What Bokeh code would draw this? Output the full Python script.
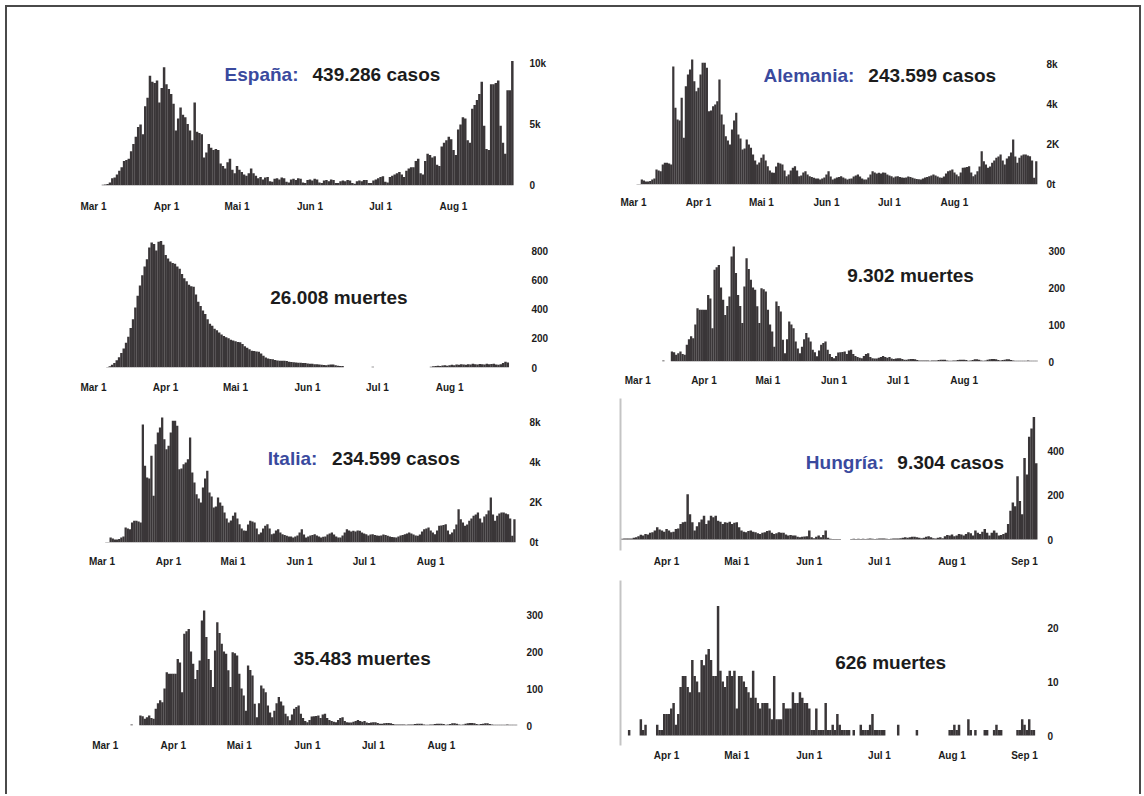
from bokeh.plotting import figure
from bokeh.layouts import row, column
from bokeh.models import Range1d, FixedTicker, LinearAxis, Label, ColumnDataSource
from bokeh.embed import file_html
from bokeh.resources import INLINE

# ---------------- data (daily values, day 0 = 1 March) ----------------
month_ticks = [0, 31, 61, 92, 122, 153, 184]
month_labels = ["Mar 1", "Apr 1", "Mai 1", "Jun 1", "Jul 1", "Aug 1", "Sep 1"]

es_cases = [
    0, 0, 0, 0, 60, 80, 120, 250, 600, 650,
    900, 1200, 1500, 2000, 2100, 2200, 2800, 3400, 4000, 4800,
    5000, 4200, 6500, 7200, 9000, 8500, 8400, 8600, 6800, 8000,
    9700, 8300, 7900, 7500, 6700, 4500, 5500, 6400, 5800, 5600,
    5050, 4500, 3700, 6800, 4400, 4300, 4200, 2300, 2700, 3400,
    3100, 2900, 3000, 2900, 1800, 1600, 1400, 1900, 2200, 1300,
    1000, 1600, 1300, 1100, 900, 800, 1000, 1400, 1000, 800,
    600, 700, 500, 650, 700, 350, 300, 550, 600, 500,
    650, 600, 300, 250, 500, 550, 450, 600, 550, 250,
    200, 450, 500, 400, 550, 500, 250, 200, 400, 450,
    350, 500, 450, 200, 200, 350, 400, 350, 450, 400,
    200, 150, 350, 400, 350, 450, 450, 200, 200, 400,
    500, 600, 700, 750, 300, 250, 700, 800, 900, 1000,
    1100, 900, 700, 1200, 1400, 1500, 1500, 2000, 2200, 1000,
    900, 2000, 2600, 2500, 2300, 2400, 1700, 1600, 3200, 3500,
    3700, 4000, 3800, 2900, 2500, 4600, 5000, 5600, 5500, 3700,
    3500, 6300, 6600, 7000, 7500, 8500, 4900, 3000, 2900, 8300,
    8300, 8400, 8600, 4900, 3500, 2600, 7800, 7800, 10200,
]

es_deaths = [
    0, 0, 0, 0, 0, 0, 3, 8, 18, 30,
    50, 70, 100, 130, 170, 210, 270, 330, 410, 490,
    560, 630, 690, 740, 820, 855, 845, 800, 860, 865,
    840, 770, 745, 725, 715, 710, 690, 675, 640, 610,
    590, 565, 555, 552, 500, 450, 420, 390, 365, 330,
    300, 285, 265, 255, 240, 225, 215, 207, 200, 190,
    184, 180, 175, 172, 160, 145, 135, 125, 115, 112,
    110, 108, 95, 80, 69, 62, 58, 57, 52, 48,
    46, 46, 46, 44, 40, 38, 36, 35, 33, 32,
    31, 30, 28, 26, 25, 23, 22, 20, 18, 17,
    16, 18, 20, 20, 15, 12, 10, 10, 0, 0,
    0, 0, 0, 0, 0, 0, 0, 0, 0, 0,
    5, 0, 0, 0, 0, 0, 0, 0, 0, 0,
    0, 0, 0, 0, 0, 0, 0, 0, 0, 0,
    0, 0, 0, 0, 0, 5, 8, 10, 12, 10,
    14, 15, 12, 15, 18, 16, 20, 18, 22, 20,
    18, 22, 20, 25, 22, 20, 24, 22, 20, 25,
    22, 24, 25, 20, 18, 22, 30, 40, 35,
]

it_cases = [
    0, 0, 20, 30, 250, 200, 150, 150, 170, 250,
    300, 750, 700, 667, 1000, 1083, 1083, 1050, 1000, 5900,
    3833, 3250, 3200, 4333, 2333, 4917, 5500, 5750, 6250, 5167,
    4667, 4833, 5500, 6083, 6083, 5833, 3667, 3700, 3917, 4000,
    4167, 5250, 3500, 3000, 2417, 2200, 2000, 2750, 3200, 3583,
    2500, 2300, 1750, 1800, 2250, 2000, 1833, 1500, 1200, 1000,
    1100, 1333, 1500, 1200, 917, 700, 600, 583, 900, 1083,
    1050, 1000, 700, 417, 500, 700, 833, 917, 700, 417,
    450, 600, 667, 500, 417, 380, 333, 300, 300, 250,
    300, 350, 500, 667, 400, 250, 300, 350, 380, 417,
    350, 300, 250, 283, 300, 400, 450, 500, 400, 300,
    250, 250, 350, 500, 667, 600, 550, 583, 550, 600,
    583, 500, 450, 417, 350, 400, 417, 380, 350, 333,
    350, 400, 380, 333, 300, 280, 260, 250, 300, 350,
    380, 417, 450, 500, 450, 400, 350, 333, 400, 550,
    667, 700, 750, 600, 500, 417, 600, 833, 850, 880,
    917, 600, 417, 500, 667, 900, 1667, 1167, 1000, 833,
    900, 1083, 1200, 1333, 1400, 1500, 1200, 1000, 1300, 1417,
    1600, 2250, 1400, 1083, 1333, 1450, 1500, 1500, 1450, 1417,
    1200, 333, 1167,
]

it_deaths = [
    0, 0, 0, 0, 0, 0, 0, 0, 0, 0,
    0, 0, 3, 0, 0, 0, 27, 25, 18, 22,
    27, 20, 18, 45, 60, 68, 63, 100, 144, 140,
    140, 140, 140, 180, 170, 90, 248, 255, 261, 200,
    167, 126, 150, 176, 284, 311, 239, 180, 150, 104,
    203, 279, 250, 221, 200, 194, 149, 104, 198, 195,
    189, 140, 100, 81, 40, 162, 150, 135, 59, 22,
    60, 108, 100, 90, 54, 35, 22, 40, 60, 77,
    65, 54, 32, 25, 14, 30, 45, 50, 54, 32,
    20, 12, 9, 15, 24, 25, 26, 27, 20, 30,
    32, 20, 15, 12, 10, 9, 15, 20, 22, 12,
    9, 8, 8, 10, 12, 15, 12, 10, 12, 8,
    7, 8, 9, 9, 7, 5, 5, 6, 7, 7,
    6, 4, 3, 3, 3, 3, 3, 2, 3, 3,
    3, 4, 5, 5, 5, 3, 2, 2, 3, 3,
    4, 5, 5, 5, 4, 2, 3, 4, 6, 6,
    5, 3, 2, 3, 5, 6, 7, 7, 6, 4,
    3, 4, 5, 6, 6, 4, 3, 2, 2, 2,
    2, 2, 2, 3, 2, 2, 2, 2,
]

# the Alemania panels of the reference show the very same bars as the Italia ones
de_cases = list(it_cases)
de_deaths = list(it_deaths)

hu_cases = [
    0, 0, 0, 0, 0, 0, 0, 0, 0, 0,
    0, 0, 3, 4, 5, 4, 5, 8, 10, 15,
    21, 18, 25, 22, 30, 33, 40, 55, 45, 40,
    35, 47, 40, 33, 35, 47, 50, 70, 77, 80,
    203, 114, 77, 40, 60, 77, 90, 107, 70, 85,
    107, 100, 107, 84, 80, 70, 77, 75, 80, 70,
    75, 77, 55, 40, 35, 33, 38, 40, 35, 33,
    28, 25, 30, 33, 38, 40, 30, 25, 28, 33,
    30, 30, 22, 18, 20, 18, 18, 12, 10, 12,
    14, 15, 40, 10, 6, 12, 18, 10, 20, 40,
    8, 3, 2, 2, 2, 2, 0, 0, 0, 0,
    2, 3, 2, 3, 2, 3, 2, 3, 4, 3,
    2, 3, 4, 5, 4, 3, 2, 3, 4, 5,
    4, 6, 8, 10, 8, 10, 12, 12, 10, 8,
    6, 8, 12, 15, 10, 6, 5, 8, 10, 6,
    15, 20, 18, 22, 15, 18, 25, 22, 18, 25,
    33, 28, 18, 40, 30, 25, 35, 47, 30, 18,
    30, 40, 30, 18, 20, 25, 30, 70, 129, 166,
    150, 284, 173, 114, 366, 292, 462, 499, 551, 343,
]

hu_deaths = [
    0, 0, 0, 0, 0, 0, 0, 0, 0, 0,
    0, 0, 0, 0, 0, 1, 0, 0, 0, 0,
    3, 1, 2, 0, 0, 0, 0, 2, 1, 1,
    4, 4, 4, 5, 6, 2, 4, 9, 11, 11,
    9, 8, 14, 11, 10, 8, 14, 13, 15, 16,
    14, 11, 11, 24, 12, 10, 9, 11, 12, 11,
    12, 5, 11, 11, 10, 9, 8, 7, 12, 7,
    6, 5, 6, 6, 6, 5, 3, 11, 3, 3,
    3, 6, 5, 5, 5, 8, 6, 6, 8, 7,
    6, 6, 5, 1, 1, 5, 1, 1, 1, 6,
    1, 1, 2, 1, 4, 2, 1, 1, 1, 1,
    0, 1, 0, 0, 2, 1, 1, 1, 2, 4,
    1, 1, 1, 1, 1, 0, 0, 0, 0, 0,
    2, 0, 0, 0, 0, 0, 0, 0, 1, 0,
    0, 0, 0, 0, 0, 0, 0, 0, 0, 0,
    0, 0, 1, 1, 2, 1, 2, 0, 0, 0,
    3, 1, 0, 1, 0, 0, 0, 1, 1, 0,
    0, 1, 2, 1, 1, 0, 0, 0, 0, 0,
    0, 1, 1, 3, 2, 1, 3, 1, 1,
]

# y tick values and their printed labels (as in the reference)
es_case_ticks = [0, 5000, 10000]
es_case_tick_labels = ["0", "5k", "10k"]
it_case_ticks = [0, 2000, 4000, 6000]
it_case_tick_labels = ["0t", "2K", "4k", "8k"]
es_death_ticks = [0, 200, 400, 600, 800]
es_death_tick_labels = ["0", "200", "400", "600", "800"]
it_death_ticks = [0, 100, 200, 300]
it_death_tick_labels = ["0", "100", "200", "300"]
hu_case_ticks = [0, 200, 400]
hu_case_tick_labels = ["0", "200", "400"]
hu_death_ticks = [0, 10, 20]
hu_death_tick_labels = ["0", "10", "20"]

# panel headings: (country in blue, figure in black)
titles = {
    "es_c": ("España:", "439.286 casos"),
    "es_d": (None, "26.008 muertes"),
    "de_c": ("Alemania:", "243.599 casos"),
    "de_d": (None, "9.302 muertes"),
    "it_c": ("Italia:", "234.599 casos"),
    "hu_c": ("Hungría:", "9.304 casos"),
    "it_d": (None, "35.483 muertes"),
    "hu_d": (None, "626 muertes"),
}

# ---------------- styling ----------------
BAR = "#3a3638"
BLUE = "#3a4a9e"
INK = "#1c1c1c"
TITLE_FONT = "Liberation Sans"
TICK_FONT = "Liberation Sans"
TITLE_SIZE = "19px"


def panel(vals, key, x0, ppd, y0, ppv, canvas, frame, xt, yt, ylab,
          xstand, ystand, tpos, left_line=False):
    """canvas / frame / mapping values are page pixel positions of the layout."""
    cx, cy, cw, ch = canvas
    fl, fr, ft, fb = frame
    p = figure(width=cw, height=ch, output_backend="svg", toolbar_location=None,
               x_range=Range1d((fl - x0) / ppd, (fr - x0) / ppd),
               y_range=Range1d((y0 - fb) / ppv, (y0 - ft) / ppv),
               min_border_left=fl - cx, min_border_right=cx + cw - fr,
               min_border_top=ft - cy, min_border_bottom=cy + ch - fb,
               x_axis_location="below", y_axis_location="right",
               outline_line_color=None, background_fill_color="white",
               border_fill_color="white")
    p.xgrid.visible = False
    p.ygrid.visible = False
    src = ColumnDataSource(dict(day=list(range(len(vals))), value=vals))
    p.vbar(x="day", top="value", width=1.06, bottom=0, source=src,
           fill_color=BAR, line_color=None)

    xa = p.xaxis[0]
    xa.ticker = FixedTicker(ticks=[month_ticks[i] for i in xt])
    xa.major_label_overrides = {month_ticks[i]: month_labels[i] for i in xt}
    ya = p.yaxis[0]
    ya.ticker = FixedTicker(ticks=yt)
    ya.major_label_overrides = {t: l for t, l in zip(yt, ylab)}
    for ax, st in ((xa, xstand), (ya, ystand)):
        ax.axis_line_color = None
        ax.major_tick_line_color = None
        ax.minor_tick_line_color = None
        ax.major_tick_out = 0
        ax.major_tick_in = 0
        ax.major_label_standoff = st
        ax.major_label_text_font = TICK_FONT
        ax.major_label_text_font_style = "bold"
        ax.major_label_text_font_size = "10px"
        ax.major_label_text_color = INK

    if left_line:
        la = LinearAxis(ticker=FixedTicker(ticks=[]), axis_line_color="#c4c4c4",
                        axis_line_width=2, major_tick_line_color=None,
                        minor_tick_line_color=None, major_label_text_font_size="0px")
        p.add_layout(la, "left")

    blue, black = titles[key]
    if blue is None:
        xc, yb = tpos
        p.add_layout(Label(x=(xc - x0) / ppd, y=(y0 - yb) / ppv, text=black,
                           text_font=TITLE_FONT, text_font_size=TITLE_SIZE,
                           text_font_style="bold", text_color=INK,
                           text_align="center", text_baseline="alphabetic"))
    else:
        xr, xl, yb = tpos
        p.add_layout(Label(x=(xr - x0) / ppd, y=(y0 - yb) / ppv, text=blue,
                           text_font=TITLE_FONT, text_font_size=TITLE_SIZE,
                           text_font_style="bold", text_color=BLUE,
                           text_align="right", text_baseline="alphabetic"))
        p.add_layout(Label(x=(xl - x0) / ppd, y=(y0 - yb) / ppv, text=black,
                           text_font=TITLE_FONT, text_font_size=TITLE_SIZE,
                           text_font_style="bold", text_color=INK,
                           text_align="left", text_baseline="alphabetic"))
    return p


SIX = [0, 1, 2, 3, 4, 5]
HU = [1, 2, 3, 4, 5, 6]

p1 = panel(es_cases, "es_c", 93, 2.353, 185, 0.0122, (7, 7, 563, 215),
           (90, 519, 45, 185), SIX, es_case_ticks, es_case_tick_labels, 15, 10,
           (298, 312, 74))
p3 = panel(es_deaths, "es_d", 93, 2.333, 367, 0.14625, (7, 222, 563, 178),
           (90, 520, 240, 367), SIX, es_death_ticks, es_death_tick_labels, 14, 12,
           (339, 297))
p5 = panel(it_cases, "it_c", 101.7, 2.178, 542, 0.02, (7, 400, 563, 180),
           (90, 525, 412, 542), SIX, it_case_ticks, it_case_tick_labels, 13, 10,
           (320, 335, 458))
p7 = panel(it_deaths, "it_d", 105, 2.233, 725, 0.37, (7, 580, 563, 214),
           (90, 526, 600, 725), SIX, it_death_ticks, it_death_tick_labels, 14, 7,
           (366, 658))

p2 = panel(de_cases, "de_c", 633, 2.108, 184, 0.02, (570, 7, 569, 211),
           (620, 1042, 45, 184), SIX, it_case_ticks, it_case_tick_labels, 12, 6,
           (855, 869, 75))
p4 = panel(de_deaths, "de_d", 637.3, 2.133, 361, 0.37, (570, 218, 569, 176),
           (620, 1040, 240, 361), SIX, it_death_ticks, it_death_tick_labels, 13, 8,
           (910, 275))
p6 = panel(hu_cases, "hu_c", 577.3, 2.451, 539, 0.2225, (570, 394, 569, 181),
           (605, 1045, 398, 550), HU, hu_case_ticks, hu_case_tick_labels, 5, 7,
           (881, 895, 462), left_line=True)
p8 = panel(hu_deaths, "hu_d", 577.3, 2.451, 735, 5.4, (570, 575, 569, 219),
           (605, 1045, 580, 745), HU, hu_death_ticks, hu_death_tick_labels, 4, 7,
           (888, 662), left_line=True)

left = column(p1, p3, p5, p7, spacing=0)
right = column(p2, p4, p6, p8, spacing=0)
layout = row(left, right, spacing=0,
             styles={"margin": "5px 0px 0px 5px",
                     "border-top": "2px solid #4a4a4a",
                     "border-left": "2px solid #4a4a4a",
                     "border-right": "2px solid #4a4a4a"})

open("out.html", "w").write(file_html(layout, INLINE))
